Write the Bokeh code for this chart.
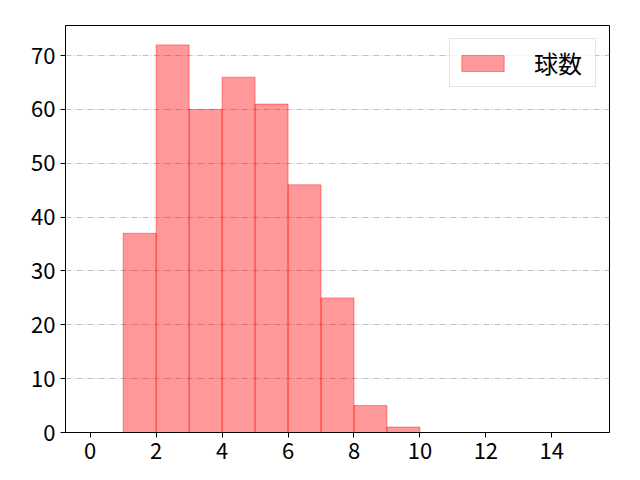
from bokeh.plotting import figure
from bokeh.models import Range1d, FixedTicker, ColumnDataSource, Legend, LegendItem
from bokeh.embed import file_html
from bokeh.resources import INLINE

bin_left = [0, 1, 2, 3, 4, 5, 6, 7, 8, 9, 10, 11, 12, 13, 14]
bin_right = [1, 2, 3, 4, 5, 6, 7, 8, 9, 10, 11, 12, 13, 14, 15]
counts = [0, 37, 72, 60, 66, 61, 46, 25, 5, 1, 0, 0, 0, 0, 0]
x_ticks = [0, 2, 4, 6, 8, 10, 12, 14]
y_ticks = [0, 10, 20, 30, 40, 50, 60, 70]
series_label = "球数"

FONT = "Noto Sans CJK JP"

src = ColumnDataSource(dict(left=bin_left, right=bin_right, top=counts, bottom=[0] * len(counts)))

p = figure(width=624, height=464, output_backend="svg", toolbar_location=None,
           x_range=Range1d(-0.75, 15.75), y_range=Range1d(0, 75.6),
           min_border_left=65, min_border_top=25, min_border_right=15, min_border_bottom=32)

r = p.quad(left="left", right="right", top="top", bottom="bottom", source=src,
           fill_color="red", fill_alpha=0.4, line_color="red", line_alpha=0.4, line_width=1)

p.xgrid.visible = False
p.ygrid.grid_line_color = "#b0b0b0"
p.ygrid.grid_line_dash = "6 2 1 2"
p.ygrid.grid_line_width = 0.8

p.outline_line_color = "black"
p.outline_line_alpha = 1
p.outline_line_width = 1

for ax in (p.xaxis[0], p.yaxis[0]):
    ax.major_label_text_font = FONT
    ax.major_label_text_font_size = "22px"
    ax.major_label_text_color = "black"
    ax.axis_line_color = "black"
    ax.major_tick_line_color = "black"
    ax.major_tick_out = 5
    ax.major_tick_in = 0
    ax.minor_tick_line_color = None
    ax.major_label_standoff = 5

p.xaxis[0].ticker = FixedTicker(ticks=x_ticks)
p.yaxis[0].ticker = FixedTicker(ticks=y_ticks)

legend = Legend(items=[LegendItem(label=series_label, renderers=[r])], location="top_right")
legend.label_text_font = FONT
legend.label_text_font_size = "24px"
legend.label_text_color = "black"
legend.glyph_width = 53
legend.glyph_height = 20
legend.label_height = 20
legend.label_width = 55
legend.label_standoff = 25
legend.padding = 6
legend.margin = 13
legend.border_line_color = "#cccccc"
legend.border_line_width = 1
legend.background_fill_alpha = 0.8
p.add_layout(legend)

open("out.html", "w").write(file_html(p, INLINE))
